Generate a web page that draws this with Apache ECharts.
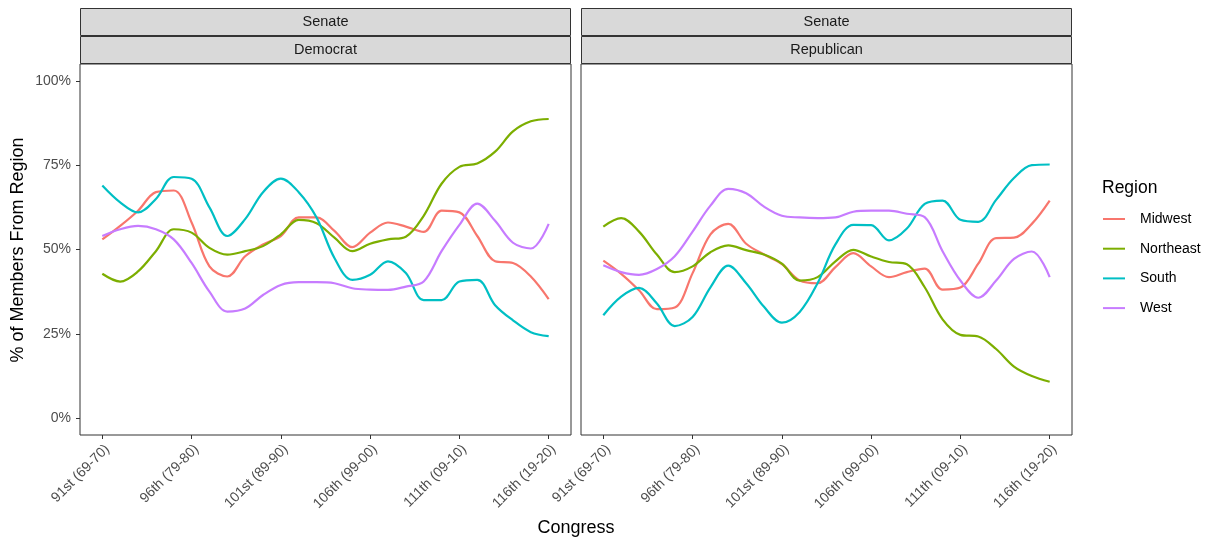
<!DOCTYPE html>
<html>
<head>
<meta charset="utf-8">
<script src="https://cdn.jsdelivr.net/npm/echarts@6/dist/echarts.min.js"></script>
<style>
  html, body { margin: 0; padding: 0; background: #ffffff; }
  #chart { width: 1210px; height: 541px; }
</style>
</head>
<body>
<div id="chart"></div>
<script>
// Congress numbers (91st = 1969-70 … 116th = 2019-20)
const congress = [91, 92, 93, 94, 95, 96, 97, 98, 99, 100, 101, 102, 103, 104, 105, 106, 107, 108, 109, 110, 111, 112, 113, 114, 115, 116];
const tickCongress = [91, 96, 101, 106, 111, 116];
const tickLabels = ['91st (69-70)', '96th (79-80)', '101st (89-90)', '106th (99-00)', '111th (09-10)', '116th (19-20)'];
const yTicks = [0, 25, 50, 75, 100];

const regions = ['Midwest', 'Northeast', 'South', 'West'];
const regionColors = ['#F8766D', '#7CAE00', '#00BFC4', '#C77CFF'];

const chamber = 'Senate';
const parties = ['Democrat', 'Republican'];

// Share of each party's senators from each region (%)
const demMidwest   = [53, 57, 61.5, 67, 67.5, 58, 45, 42, 48, 51.5, 54, 59.5, 59.5, 55.5, 50.7, 55, 58, 56.8, 55.2, 61.5, 61, 54, 46.5, 46, 42, 35.3];
const demNortheast = [42.8, 40.5, 43.5, 49.5, 56, 55, 50.5, 48.5, 49.5, 51, 54.5, 58.8, 57.8, 53.5, 49.5, 51.7, 53, 53.8, 60, 69.5, 74.5, 75.5, 79, 85, 88, 88.7];
const demSouth     = [69, 64, 61, 65, 71.5, 71, 62.5, 54, 59, 67, 71, 67, 59.5, 47.5, 41, 42.5, 46.5, 43, 35, 35, 40.5, 41, 33.5, 29, 25.5, 24.3];
const demWest      = [54, 56, 57, 56, 53, 46, 37.5, 31.6, 32.5, 36.5, 39.5, 40.3, 40.3, 40, 38.5, 38.1, 38, 39, 40.5, 49.5, 57.3, 63.6, 58.5, 52, 50.3, 57.6];

const repMidwest   = [46.7, 42.8, 37.9, 32.3, 32.8, 43, 54.5, 57.6, 51.7, 48.5, 45.7, 40.8, 40, 44.8, 48.9, 45, 41.8, 43.3, 44.3, 38.1, 38.7, 45.8, 53.4, 53.5, 57.6, 64.5];
const repNortheast = [56.8, 59.3, 55.3, 48.5, 43.3, 45, 49.2, 51.2, 49.8, 48.5, 45.8, 40.8, 41.8, 46.5, 49.9, 47.9, 46.3, 45.6, 38.8, 29.3, 24.7, 24.2, 20.5, 15.3, 12.5, 10.8];
const repSouth     = [30.5, 36, 38.6, 34, 27.3, 30, 38.8, 45.2, 40, 33, 28.3, 31.5, 40, 51.5, 57.3, 57.2, 52.7, 56.2, 63.5, 64.5, 58.8, 58.2, 64.7, 71.2, 75, 75.2];
const repWest      = [45.3, 43.3, 42.5, 44.2, 48, 55.3, 63, 68, 66.7, 62.7, 60, 59.5, 59.3, 59.5, 61.2, 61.5, 61.5, 60.6, 59.6, 49.5, 40.8, 35.7, 40.8, 47.2, 49.4, 41.8];

const panelValues = [
  [demMidwest, demNortheast, demSouth, demWest],
  [repMidwest, repNortheast, repSouth, repWest]
];

const FONT = '"Liberation Sans", Arial, Helvetica, sans-serif';
const panels = [
  { left: 80, width: 491 },
  { left: 581, width: 491 }
];
const plotTop = 64;
const plotHeight = 371;
const stripH = 28;
const stripTop = 8;

const chart = echarts.init(document.getElementById('chart'), null, { renderer: 'canvas' });

const grids = panels.map(p => ({
  left: p.left, top: plotTop, width: p.width, height: plotHeight,
  show: true, borderColor: '#333333', borderWidth: 1, backgroundColor: '#ffffff',
  containLabel: false
}));

const xAxes = panels.map((p, i) => ({
  type: 'value', gridIndex: i, min: 89.75, max: 117.25, position: 'bottom',
  axisLine: { show: false, onZero: false },
  splitLine: { show: false },
  axisTick: { show: true, customValues: tickCongress, length: 4, lineStyle: { color: '#333333', width: 1 } },
  axisLabel: {
    show: true, customValues: tickCongress, rotate: 45, margin: 7,
    verticalAlign: 'top',
    color: '#4d4d4d', fontSize: 14, fontFamily: FONT,
    formatter: v => tickLabels[tickCongress.indexOf(Math.round(v))] || ''
  }
}));

const yAxes = panels.map((p, i) => ({
  type: 'value', gridIndex: i, min: -5, max: 105, position: 'left',
  axisLine: { show: false, onZero: false },
  splitLine: { show: false },
  axisTick: { show: i === 0, customValues: yTicks, length: 4, lineStyle: { color: '#333333', width: 1 } },
  axisLabel: {
    show: i === 0, customValues: yTicks, margin: 9,
    color: '#4d4d4d', fontSize: 14, fontFamily: FONT,
    formatter: v => v + '%'
  }
}));

const series = [];
panelValues.forEach((vals, pi) => {
  vals.forEach((arr, ri) => {
    series.push({
      name: regions[ri], type: 'line', xAxisIndex: pi, yAxisIndex: pi,
      data: congress.map((c, k) => [c, arr[k]]),
      showSymbol: false, smooth: 0.35,
      lineStyle: { color: regionColors[ri], width: 2.2 },
      itemStyle: { color: regionColors[ri] },
      emphasis: { disabled: true }
    });
  });
});

// facet strips: chamber row on top, party row beneath
const graphics = [];
panels.forEach((p, i) => {
  graphics.push({
    type: 'rect', silent: true,
    shape: { x: p.left + 0.5, y: stripTop + 0.5, width: p.width - 1, height: stripH - 1 },
    style: { fill: '#d9d9d9', stroke: '#333333', lineWidth: 1 }
  });
  graphics.push({
    type: 'rect', silent: true,
    shape: { x: p.left + 0.5, y: stripTop + stripH + 0.5, width: p.width - 1, height: stripH - 1 },
    style: { fill: '#d9d9d9', stroke: '#333333', lineWidth: 1 }
  });
  graphics.push({
    type: 'text', silent: true, x: p.left + p.width / 2, y: stripTop + stripH / 2,
    style: { text: chamber, fill: '#1a1a1a', font: '14.5px ' + FONT, textAlign: 'center', textVerticalAlign: 'middle' }
  });
  graphics.push({
    type: 'text', silent: true, x: p.left + p.width / 2, y: stripTop + stripH * 1.5,
    style: { text: parties[i], fill: '#1a1a1a', font: '14.5px ' + FONT, textAlign: 'center', textVerticalAlign: 'middle' }
  });
});
// axis titles
graphics.push({
  type: 'text', silent: true, x: 576, y: 528,
  style: { text: 'Congress', fill: '#000000', font: '18px ' + FONT, textAlign: 'center', textVerticalAlign: 'middle' }
});
graphics.push({
  type: 'text', silent: true, x: 18, y: 250, rotation: Math.PI / 2,
  style: { text: '% of Members From Region', fill: '#000000', font: '18px ' + FONT, textAlign: 'center', textVerticalAlign: 'middle' }
});
// legend title
graphics.push({
  type: 'text', silent: true, x: 1102, y: 188,
  style: { text: 'Region', fill: '#000000', font: '17.5px ' + FONT, textAlign: 'left', textVerticalAlign: 'middle' }
});

chart.setOption({
  animation: false,
  backgroundColor: '#ffffff',
  grid: grids,
  xAxis: xAxes,
  yAxis: yAxes,
  series: series,
  legend: {
    data: regions.map((r, i) => ({ name: r, icon: 'rect', itemStyle: { color: regionColors[i] } })),
    orient: 'vertical', left: 1103, top: 209, padding: 0,
    itemWidth: 22, itemHeight: 2, itemGap: 9.7,
    selectedMode: false,
    textStyle: { color: '#000000', fontSize: 14, fontFamily: FONT, lineHeight: 20, padding: [0, 0, 0, 10] }
  },
  graphic: graphics
});
</script>
</body>
</html>
